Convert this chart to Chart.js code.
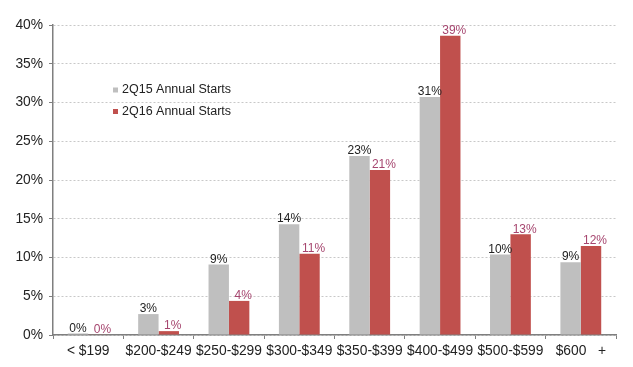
<!DOCTYPE html>
<html>
<head>
<meta charset="utf-8">
<script src="https://cdn.jsdelivr.net/npm/chart.js@4.4.0/dist/chart.umd.min.js"></script>
<style>
  body { margin: 0; background: #fff; }
</style>
</head>
<body>
<canvas id="myChart" width="633" height="367"></canvas>
<script>
var categories = ["< $199", "$200-$249", "$250-$299", "$300-$349", "$350-$399", "$400-$499", "$500-$599", "$600   +"];
var starts2Q15 = [0.2, 2.7, 9.1, 14.3, 23.1, 30.7, 10.4, 9.4];
var starts2Q16 = [0.05, 0.5, 4.4, 10.5, 21.3, 38.6, 13.0, 11.5];
var labels2Q15 = ["0%", "3%", "9%", "14%", "23%", "31%", "10%", "9%"];
var labels2Q16 = ["0%", "1%", "4%", "11%", "21%", "39%", "13%", "12%"];
var seriesNames = ["2Q15 Annual Starts", "2Q16 Annual Starts"];

var fontFam = "'Liberation Sans', Arial, sans-serif";

// labels on top of the bars
var barLabels = {
    id: 'barLabels',
    afterDatasetsDraw: function (chart) {
        var ctx = chart.ctx;
        var sets = [
            { labels: labels2Q15, color: '#222222', dx: 0 },
            { labels: labels2Q16, color: '#a6466f', dx: 4 }
        ];
        ctx.save();
        ctx.font = '12px ' + fontFam;
        ctx.textAlign = 'center';
        ctx.textBaseline = 'bottom';
        sets.forEach(function (s, di) {
            var meta = chart.getDatasetMeta(di);
            meta.data.forEach(function (bar, i) {
                ctx.fillStyle = s.color;
                ctx.fillText(s.labels[i], bar.x + s.dx, bar.y + 1);
            });
        });
        ctx.restore();
    }
};

// legend inside the plot
var innerLegend = {
    id: 'innerLegend',
    afterDraw: function (chart) {
        var ctx = chart.ctx;
        ctx.save();
        ctx.font = '12.5px ' + fontFam;
        ctx.textBaseline = 'middle';
        chart.data.datasets.forEach(function (ds, i) {
            var y = 90 + i * 21.5;
            ctx.fillStyle = ds.backgroundColor;
            ctx.fillRect(113, y - 2.5, 5, 5);
            ctx.fillStyle = '#222222';
            ctx.fillText(ds.label, 122, y);
        });
        ctx.restore();
    }
};

var ctx = document.getElementById('myChart').getContext('2d');
var chart = new Chart(ctx, {
    type: 'bar',
    data: {
        labels: categories,
        datasets: [{
            label: seriesNames[0],
            data: starts2Q15,
            backgroundColor: '#bfbfbf',
            categoryPercentage: 0.58,
            barPercentage: 1
        }, {
            label: seriesNames[1],
            data: starts2Q16,
            backgroundColor: '#c0504d',
            categoryPercentage: 0.58,
            barPercentage: 1
        }]
    },
    options: {
        responsive: false,
        animation: false,
        layout: { padding: { left: 0, right: 17, top: 25, bottom: 0 } },
        plugins: {
            legend: { display: false },
            tooltip: { enabled: false }
        },
        scales: {
            x: {
                grid: {
                    offset: true,
                    drawOnChartArea: false,
                    tickLength: 4,
                    tickColor: '#7f7f7f'
                },
                border: { color: '#7f7f7f', width: 1.5 },
                ticks: {
                    color: '#222222',
                    font: { family: fontFam, size: 13.8 },
                    padding: 4,
                    maxRotation: 0,
                    autoSkip: false
                },
                afterFit: function (scale) { scale.height = 32; }
            },
            y: {
                min: 0,
                max: 40,
                ticks: {
                    stepSize: 5,
                    color: '#222222',
                    font: { family: fontFam, size: 13.8 },
                    padding: 6,
                    callback: function (v) { return v + '%'; }
                },
                grid: {
                    color: '#c8c8c8',
                    tickLength: 4,
                    tickColor: '#7f7f7f',
                    tickBorderDash: [],
                    drawTicks: true
                },
                border: { color: '#7f7f7f', width: 1.5, dash: [2, 2] },
                afterFit: function (scale) { scale.width = 53; }
            }
        }
    },
    plugins: [barLabels, innerLegend]
});
</script>
</body>
</html>
